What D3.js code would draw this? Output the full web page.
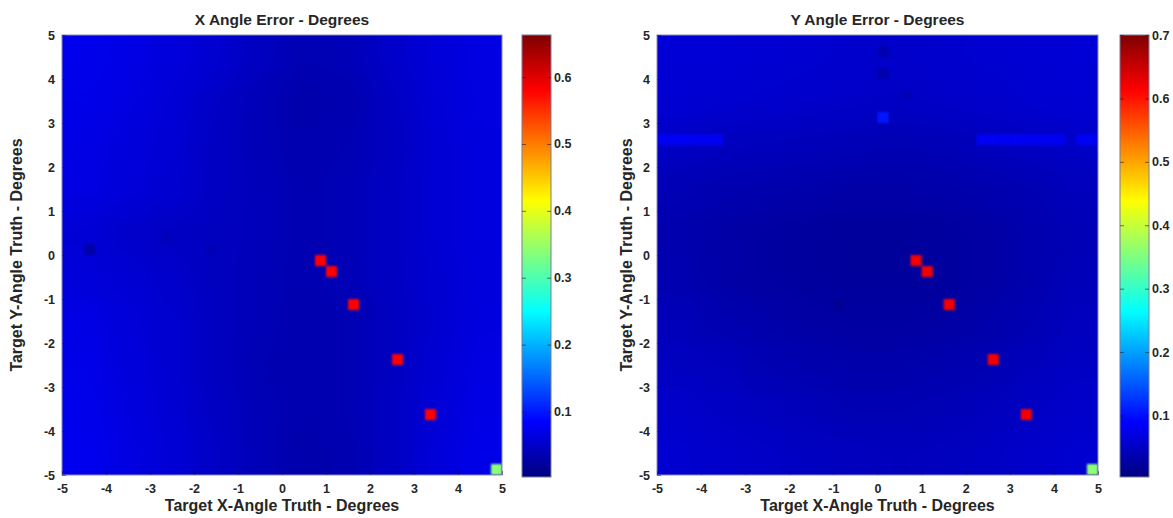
<!DOCTYPE html>
<html>
<head>
<meta charset="utf-8">
<script src="https://cdn.jsdelivr.net/npm/d3@7"></script>
<style>
  html, body { margin: 0; padding: 0; background: #ffffff; }
  svg { display: block; }
  text { font-family: "Liberation Sans", Arial, sans-serif; font-weight: bold; fill: #262626; }
</style>
</head>
<body>
<svg id="chart" width="1173" height="518"></svg>
<script>
// ---- Axis ticks -------------------------------------------------------
const axisTicks = [-5, -4, -3, -2, -1, 0, 1, 2, 3, 4, 5];
const xErrBarTicks = [0.1, 0.2, 0.3, 0.4, 0.5, 0.6];
const yErrBarTicks = [0.1, 0.2, 0.3, 0.4, 0.5, 0.6, 0.7];
const xErrRange = [0.002, 0.663];
const yErrRange = [0.003, 0.700];

// ---- Coarse background error (1° bands), rows from +5 down to -5 -----
const bandEdges = [-5, -4, -3, -2, -1, 0, 1, 2, 3, 4, 5];
const xErrField = [
  [0.072, 0.068, 0.062, 0.054, 0.044, 0.036, 0.038, 0.050, 0.060, 0.066],
  [0.070, 0.065, 0.058, 0.048, 0.038, 0.030, 0.032, 0.046, 0.058, 0.065],
  [0.068, 0.062, 0.056, 0.046, 0.038, 0.032, 0.036, 0.044, 0.056, 0.064],
  [0.066, 0.060, 0.054, 0.046, 0.040, 0.034, 0.038, 0.046, 0.056, 0.064],
  [0.058, 0.050, 0.046, 0.044, 0.040, 0.034, 0.038, 0.046, 0.056, 0.064],
  [0.060, 0.056, 0.050, 0.044, 0.038, 0.034, 0.038, 0.046, 0.054, 0.062],
  [0.068, 0.060, 0.054, 0.044, 0.038, 0.032, 0.036, 0.044, 0.054, 0.064],
  [0.070, 0.062, 0.054, 0.044, 0.036, 0.032, 0.036, 0.044, 0.056, 0.066],
  [0.072, 0.064, 0.056, 0.046, 0.038, 0.032, 0.036, 0.046, 0.058, 0.068],
  [0.074, 0.066, 0.058, 0.048, 0.038, 0.030, 0.034, 0.046, 0.060, 0.070]
];
const yErrField = [
  [0.062, 0.062, 0.060, 0.058, 0.056, 0.054, 0.056, 0.058, 0.060, 0.062],
  [0.060, 0.058, 0.056, 0.054, 0.052, 0.050, 0.052, 0.054, 0.058, 0.060],
  [0.050, 0.046, 0.044, 0.042, 0.040, 0.038, 0.040, 0.044, 0.048, 0.052],
  [0.040, 0.036, 0.034, 0.032, 0.030, 0.030, 0.032, 0.034, 0.038, 0.044],
  [0.034, 0.030, 0.026, 0.024, 0.022, 0.022, 0.024, 0.028, 0.034, 0.040],
  [0.036, 0.030, 0.026, 0.024, 0.022, 0.022, 0.024, 0.028, 0.034, 0.042],
  [0.042, 0.036, 0.032, 0.028, 0.026, 0.026, 0.028, 0.032, 0.038, 0.046],
  [0.048, 0.044, 0.038, 0.034, 0.032, 0.032, 0.034, 0.038, 0.044, 0.050],
  [0.054, 0.050, 0.046, 0.042, 0.038, 0.038, 0.040, 0.044, 0.050, 0.054],
  [0.058, 0.054, 0.052, 0.048, 0.046, 0.044, 0.046, 0.050, 0.054, 0.058]
];

// ---- Individual 0.25° grid cells that stand out: [x, y, error] ---------
const cellSize = 0.25;
const xErrCells = [
  [-4.375, 0.125, 0.028], [-2.625, 0.375, 0.040], [-1.625, 0.125, 0.038],
  [0.875, -0.125, 0.580], [1.125, -0.375, 0.580], [1.625, -1.125, 0.580],
  [2.625, -2.375, 0.580], [3.375, -3.625, 0.580],
  [4.875, -4.875, 0.340]
];
const yErrCells = [
  [-4.875, 2.625, 0.082], [-4.625, 2.625, 0.082], [-4.375, 2.625, 0.082],
  [-4.125, 2.625, 0.082], [-3.875, 2.625, 0.082], [-3.625, 2.625, 0.082],
  [2.375, 2.625, 0.082], [2.625, 2.625, 0.082], [2.875, 2.625, 0.082],
  [3.125, 2.625, 0.082], [3.375, 2.625, 0.082], [3.625, 2.625, 0.082],
  [3.875, 2.625, 0.082], [4.125, 2.625, 0.082],
  [4.625, 2.625, 0.082], [4.875, 2.625, 0.082],
  [0.125, 3.125, 0.105],
  [0.125, 4.625, 0.036], [0.125, 4.125, 0.034], [0.625, 3.625, 0.042],
  [-0.875, -1.125, 0.016],
  [0.875, -0.125, 0.620], [1.125, -0.375, 0.620], [1.625, -1.125, 0.620],
  [2.625, -2.375, 0.620], [3.375, -3.625, 0.620],
  [4.875, -4.875, 0.360]
];

// ---- MATLAB-style jet colormap -----------------------------------------
function jet(t) {
  t = Math.max(0, Math.min(1, t));
  const c = v => Math.round(255 * Math.max(0, Math.min(1, v)));
  return d3.rgb(c(1.5 - Math.abs(4 * t - 3)), c(1.5 - Math.abs(4 * t - 2)), c(1.5 - Math.abs(4 * t - 1)));
}

const svg = d3.select("#chart");
const defs = svg.append("defs");
defs.append("filter").attr("id", "soft")
  .attr("x", "-10%").attr("y", "-10%").attr("width", "120%").attr("height", "120%")
  .append("feGaussianBlur").attr("stdDeviation", 14);
defs.append("filter").attr("id", "cellSoft")
  .attr("x", "-50%").attr("y", "-50%").attr("width", "200%").attr("height", "200%")
  .append("feGaussianBlur").attr("stdDeviation", 0.8);

function drawPanel(p) {
  const x = d3.scaleLinear().domain([-5, 5]).range([p.left, p.right]);
  const y = d3.scaleLinear().domain([-5, 5]).range([p.bottom, p.top]);
  const color = d3.scaleSequential(jet).domain(p.range);
  const g = svg.append("g");

  const clipId = "clip-" + p.id;
  defs.append("clipPath").attr("id", clipId)
    .append("rect").attr("x", p.left).attr("y", p.top)
    .attr("width", p.right - p.left).attr("height", p.bottom - p.top);

  // smooth background error field; outer bands run past the frame so the blur stays even
  const bands = [];
  p.field.forEach((row, r) => row.forEach((v, c) => bands.push({ r, c, v })));
  const pad = 40;
  const plotArea = g.append("g").attr("clip-path", `url(#${clipId})`);
  plotArea.append("g").attr("filter", "url(#soft)")
    .selectAll("rect").data(bands).join("rect")
    .attr("x", d => x(bandEdges[d.c]) - (d.c === 0 ? pad : 0))
    .attr("y", d => y(bandEdges[10 - d.r]) - (d.r === 0 ? pad : 0))
    .attr("width", d => x(bandEdges[d.c + 1]) - x(bandEdges[d.c]) + (d.c === 0 || d.c === 9 ? pad : 0) + 0.5)
    .attr("height", d => y(bandEdges[9 - d.r]) - y(bandEdges[10 - d.r]) + (d.r === 0 || d.r === 9 ? pad : 0) + 0.5)
    .attr("fill", d => color(d.v));

  // individual grid cells
  plotArea.append("g").attr("filter", "url(#cellSoft)")
    .selectAll("rect").data(p.cells).join("rect")
    .attr("x", d => x(d[0] - cellSize / 2))
    .attr("y", d => y(d[1] + cellSize / 2))
    .attr("width", d => x(d[0] + cellSize / 2) - x(d[0] - cellSize / 2))
    .attr("height", d => y(d[1] - cellSize / 2) - y(d[1] + cellSize / 2))
    .attr("fill", d => color(d[2]));

  // frame and inward ticks
  g.append("rect").attr("x", p.left).attr("y", p.top)
    .attr("width", p.right - p.left).attr("height", p.bottom - p.top)
    .attr("fill", "none").attr("stroke", "#8a8ab8").attr("stroke-width", 1);

  const xAxis = d3.axisBottom(x).tickValues(axisTicks).tickSizeInner(-4).tickSizeOuter(0).tickPadding(7)
    .tickFormat(d3.format("d"));
  const yAxis = d3.axisLeft(y).tickValues(axisTicks).tickSizeInner(-4).tickSizeOuter(0).tickPadding(7)
    .tickFormat(d3.format("d"));
  const gx = g.append("g").attr("transform", `translate(0,${p.bottom})`).call(xAxis);
  const gy = g.append("g").attr("transform", `translate(${p.left},0)`).call(yAxis);
  [gx, gy].forEach(a => {
    a.select(".domain").remove();
    a.selectAll(".tick line").attr("stroke", "#101040").attr("stroke-opacity", 0.5);
    a.selectAll(".tick text").style("font-size", "12.5px").style("font-weight", "bold")
      .style("font-family", '"Liberation Sans", Arial, sans-serif').attr("fill", "#262626")
      .text(d => d < 0 ? "-" + Math.abs(d) : d);
  });
  gx.selectAll(".tick text").attr("dy", "0.9em");

  // titles
  g.append("text").attr("x", (p.left + p.right) / 2).attr("y", 25)
    .attr("text-anchor", "middle").style("font-size", "15.5px").text(p.title);
  g.append("text").attr("x", (p.left + p.right) / 2).attr("y", 511)
    .attr("text-anchor", "middle").style("font-size", "16px").text("Target X-Angle Truth - Degrees");
  g.append("text").attr("transform", `translate(${p.ylabX},${(p.top + p.bottom) / 2}) rotate(-90)`)
    .attr("text-anchor", "middle").style("font-size", "16px").text("Target Y-Angle Truth - Degrees");

  // colorbar
  const cb = p.cbar;
  const cy = d3.scaleLinear().domain(p.range).range([cb.bottom, cb.top]);
  const gradId = "grad-" + p.id;
  const grad = defs.append("linearGradient").attr("id", gradId)
    .attr("x1", 0).attr("y1", 1).attr("x2", 0).attr("y2", 0);
  d3.range(0, 65).forEach(i => {
    grad.append("stop").attr("offset", i / 64).attr("stop-color", jet(i / 64));
  });
  g.append("rect").attr("x", cb.left).attr("y", cb.top)
    .attr("width", cb.right - cb.left).attr("height", cb.bottom - cb.top)
    .attr("fill", `url(#${gradId})`).attr("stroke", "#7a7a9a").attr("stroke-width", 1);
  const cAxisR = d3.axisRight(cy).tickValues(p.barTicks).tickSizeInner(-4).tickSizeOuter(0)
    .tickPadding(3).tickFormat(d3.format(".1f"));
  const gc = g.append("g").attr("transform", `translate(${cb.right},0)`).call(cAxisR);
  gc.select(".domain").remove();
  gc.selectAll(".tick line").attr("stroke", "#202020").attr("stroke-opacity", 0.6);
  gc.selectAll(".tick text").style("font-size", "12.5px").style("font-weight", "bold")
    .style("font-family", '"Liberation Sans", Arial, sans-serif').attr("fill", "#262626");
  const cAxisL = d3.axisLeft(cy).tickValues(p.barTicks).tickSizeInner(-4).tickSizeOuter(0).tickFormat("");
  const gcl = g.append("g").attr("transform", `translate(${cb.left},0)`).call(cAxisL);
  gcl.select(".domain").remove();
  gcl.selectAll(".tick line").attr("stroke", "#202020").attr("stroke-opacity", 0.6);
}

drawPanel({
  id: "xerr", title: "X Angle Error - Degrees",
  field: xErrField, cells: xErrCells, range: xErrRange, barTicks: xErrBarTicks,
  left: 62, right: 502, top: 35, bottom: 475, ylabX: 22,
  cbar: { left: 522, right: 551, top: 35, bottom: 477 }
});
drawPanel({
  id: "yerr", title: "Y Angle Error - Degrees",
  field: yErrField, cells: yErrCells, range: yErrRange, barTicks: yErrBarTicks,
  left: 657, right: 1098, top: 35, bottom: 475, ylabX: 632,
  cbar: { left: 1120, right: 1149, top: 35, bottom: 477 }
});
</script>
</body>
</html>
